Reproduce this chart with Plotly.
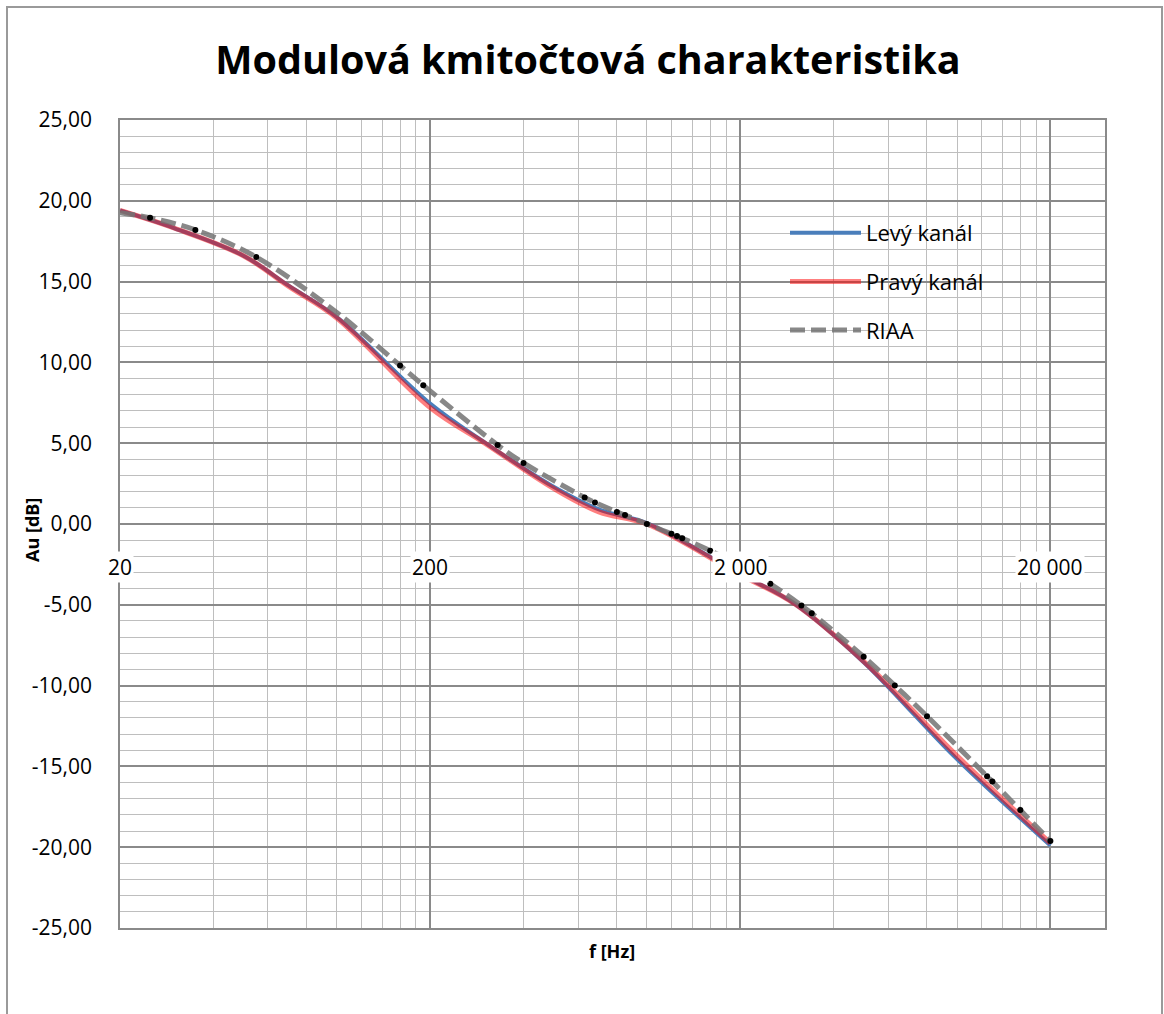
import math
import plotly.graph_objects as go

# ---- data ----
freq_meas = [20, 30, 50, 70, 100, 200, 300, 500, 700, 1000, 2000, 3000, 5000, 7000, 10000, 20000]
levy = [19.4, 18.3, 16.6, 14.75, 12.8, 7.45, 5.05, 2.3, 0.9, 0.05, -3.1, -4.95, -8.55, -11.45, -14.55, -19.9]
pravy = [19.4, 18.3, 16.6, 14.7, 12.75, 7.2, 5.0, 2.2, 0.75, 0.0, -3.15, -4.95, -8.5, -11.3, -14.35, -19.75]

freq_riaa = [20, 25, 35, 55, 100, 160, 190, 330, 400, 630, 680, 800, 850, 1000, 1200, 1250, 1300,
             1600, 2000, 2500, 3150, 3400, 5000, 6300, 8000, 12500, 13000, 16000, 20000]
riaa = [19.27, 18.95, 18.20, 16.52, 13.09, 9.81, 8.59, 4.89, 3.78, 1.64, 1.33, 0.75, 0.55, 0.0, -0.60,
        -0.75, -0.88, -1.65, -2.59, -3.70, -5.04, -5.52, -8.21, -9.99, -11.89, -15.61, -15.94, -17.70, -19.62]
riaa_dot = [False, True, True, True, False, True, True, True, True, True, True, True, True, True, True,
            True, True, True, True, True, True, True, True, True, True, True, True, True, True]

x_major = [20, 200, 2000, 20000]
x_major_text = ["20", "200", "2 000", "20 000"]
x_minor = [m * d for d in (20, 200, 2000) for m in range(2, 10)]
y_ticks = [25, 20, 15, 10, 5, 0, -5, -10, -15, -20, -25]
y_text = ["25,00", "20,00", "15,00", "10,00", "5,00", "0,00", "-5,00", "-10,00", "-15,00", "-20,00", "-25,00"]

FONT = "Open Sans"
MAJ = "#8a8a8a"
MIN = "#bebebe"

# plot-area pixel geometry
L, R, T, B = 120, 1105, 120, 928
PW, PH = R - L, B - T


def px(x):
    return (x - L) / PW


def py(y):
    return (B - y) / PH


fig = go.Figure()
fig.add_trace(go.Scatter(x=freq_meas, y=levy, name="Levý kanál", mode="lines",
                         line=dict(color="#4a7ebb", width=4, shape="spline", smoothing=1.0),
                         legendgroup="a"))
fig.add_trace(go.Scatter(x=freq_meas, y=pravy, name="Pravý kanál", mode="lines",
                         line=dict(color="rgba(255,0,0,0.5)", width=5, shape="spline", smoothing=1.0),
                         legendgroup="b"))
fig.add_trace(go.Scatter(x=freq_riaa, y=riaa, name="RIAA", mode="lines",
                         line=dict(color="rgba(115,115,115,0.85)", width=5, dash="15px,6px",
                                   shape="spline", smoothing=1.0),
                         legendgroup="c"))
fig.add_trace(go.Scatter(x=[f for f, d in zip(freq_riaa, riaa_dot) if d],
                         y=[v for v, d in zip(riaa, riaa_dot) if d],
                         mode="markers", marker=dict(color="black", size=6),
                         showlegend=False, hoverinfo="skip"))

fig.update_layout(
    width=1164, height=1014,
    margin=dict(l=L, r=1164 - R, t=T, b=1014 - B, autoexpand=False),
    paper_bgcolor="white", plot_bgcolor="white",
    font=dict(family=FONT, size=21, color="black"),
    title=dict(text="<b>Modulová kmitočtová charakteristika</b>", x=px(588), xanchor="center",
               xref="paper", y=1 - 60 / 1014, yanchor="middle",
               font=dict(family=FONT, size=39.5, color="black")),
    showlegend=True,
    legend=dict(x=px(785), y=py(212), xanchor="left", yanchor="top", bgcolor="rgba(255,255,255,0)",
                font=dict(family=FONT, size=22), tracegroupgap=17, itemwidth=71),
)

fig.update_xaxes(type="log", range=[math.log10(20), math.log10(30000)], tickvals=x_major,
                 showticklabels=False, showgrid=True, gridcolor=MAJ, gridwidth=1.5, zeroline=False,
                 showline=True, mirror=True, linecolor=MAJ, linewidth=1.5, ticks="",
                 minor=dict(tickvals=x_minor, showgrid=True, gridcolor=MIN, gridwidth=1.4, ticks=""))
fig.update_yaxes(range=[-25, 25], tickvals=y_ticks, ticktext=y_text, showgrid=True,
                 gridcolor=MAJ, gridwidth=1.5, zeroline=False, showline=True, mirror=True,
                 linecolor=MAJ, linewidth=1.5, ticks="", ticklabelstandoff=22,
                 tickfont=dict(family=FONT, size=21),
                 minor=dict(dtick=1, showgrid=True, gridcolor=MIN, gridwidth=1.4, ticks=""))

# legend background box
fig.add_shape(type="rect", xref="paper", yref="paper", x0=px(755), x1=px(1020), y0=py(346), y1=py(200),
              line=dict(width=0), fillcolor="white", layer="between")

# x tick labels at the y = 0 crossing, with white background
for xv, tx in zip(x_major, x_major_text):
    fig.add_annotation(x=math.log10(xv), y=0, xref="x", yref="y", text=tx, showarrow=False,
                       xanchor="center", yanchor="top", yshift=-27, bgcolor="white", borderpad=1,
                       font=dict(family=FONT, size=21, color="black"))

# axis titles
fig.add_annotation(x=px(32), y=py(530), xref="paper", yref="paper",
                   text="<b>Au [dB]</b>", textangle=-90, showarrow=False,
                   xanchor="center", yanchor="middle",
                   font=dict(family=FONT, size=18, color="black"))
fig.add_annotation(x=px(612), y=py(951), xref="paper", yref="paper",
                   text="<b>f [Hz]</b>", showarrow=False, xanchor="center", yanchor="middle",
                   font=dict(family=FONT, size=18, color="black"))

# outer chart frame
fig.add_shape(type="rect", xref="paper", yref="paper",
              x0=px(7), x1=px(1162), y0=py(1030), y1=py(7),
              line=dict(color="#9a9a9a", width=2), fillcolor="rgba(0,0,0,0)", layer="below")

fig.write_html("out.html", config={"displayModeBar": False},
               post_script="document.body.style.margin='0px';")
